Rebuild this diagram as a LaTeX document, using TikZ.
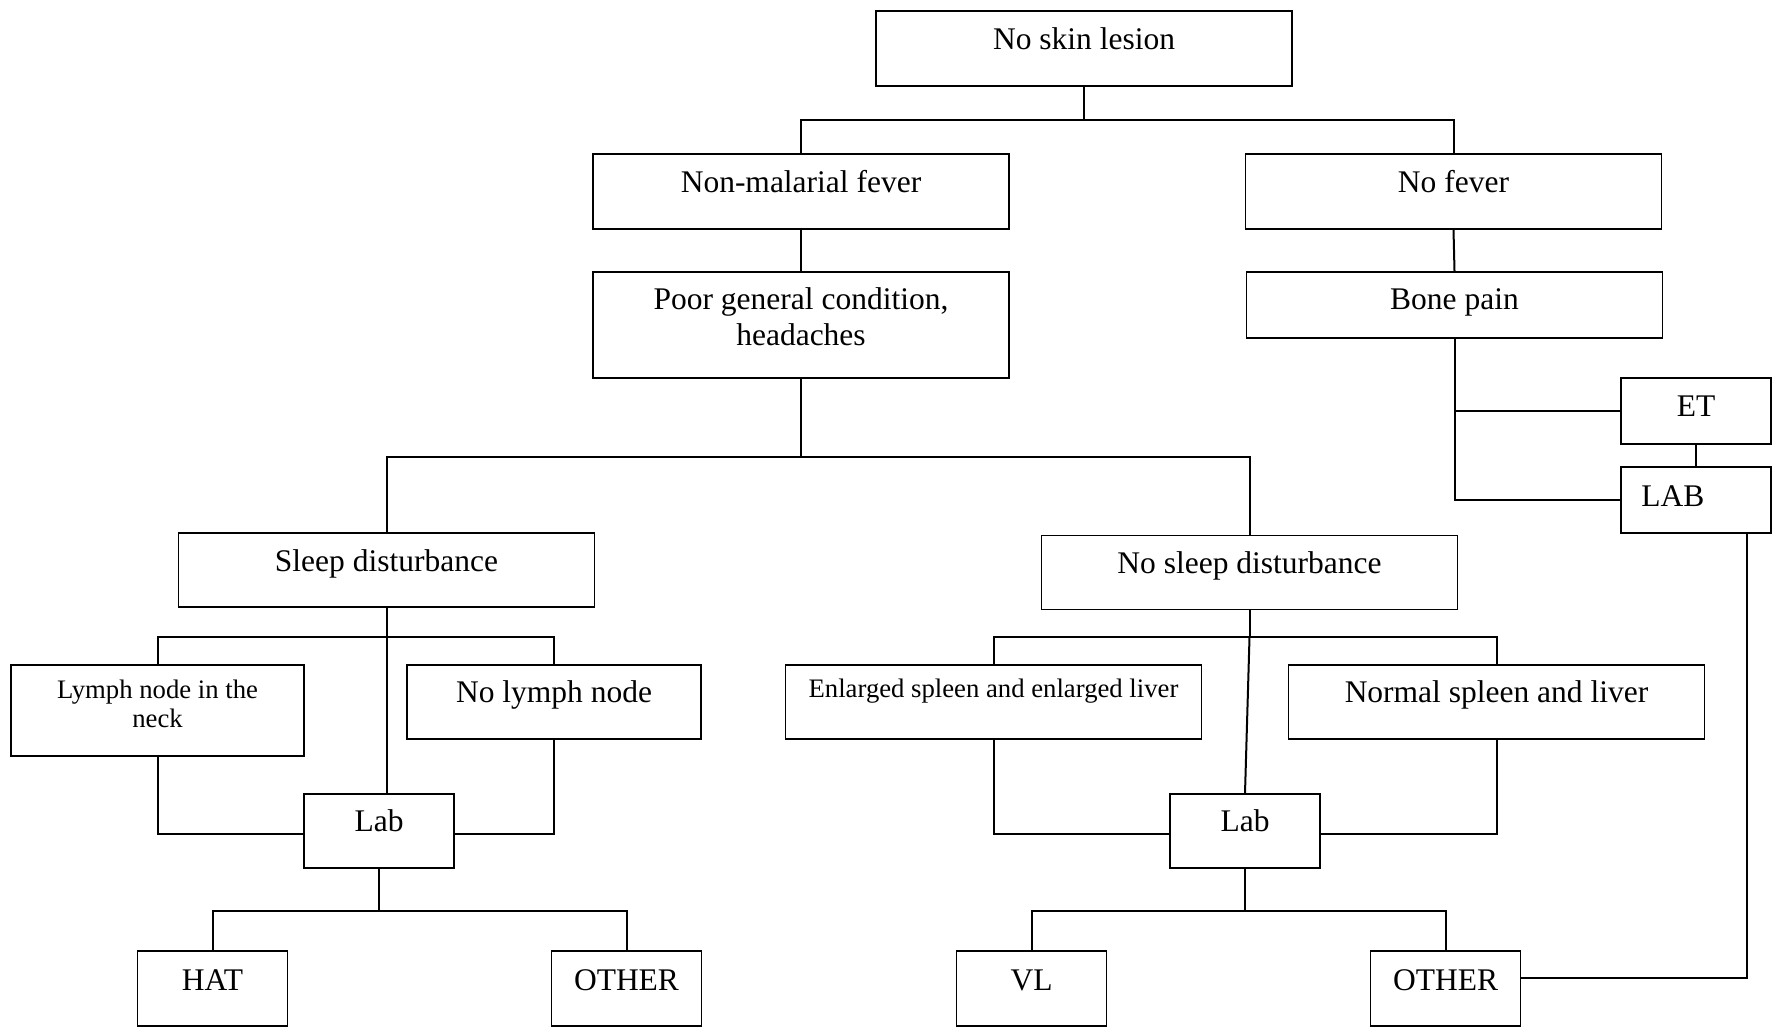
\documentclass[tikz,border=0pt]{standalone}
\usepackage{fontspec}
\setmainfont{Liberation Serif}

\begin{document}
\begin{tikzpicture}[x=1pt,y=-1pt,
  box/.style={draw,line width=1.5pt,inner sep=0pt,minimum width=416pt,minimum height=75pt},
  smallbox/.style={box,minimum width=150pt},
  txt/.style={anchor=base,inner sep=0pt,align=center,font=\fontsize{31.5}{36.7}\selectfont},
  smalltxt/.style={txt,font=\fontsize{26.7}{29.3}\selectfont},
  link/.style={line width=2pt}]
  \useasboundingbox (0,0) rectangle (1774,1028);

  % boxes
  \node[box] (skin) at (1084,48.5) {};
  \node[box] (nonmal) at (801,191.5) {};
  \node[box] (nofever) at (1453.5,191.5) {};
  \node[box,minimum height=106pt] (poor) at (801,325) {};
  \node[box,minimum height=66pt] (bone) at (1454.5,305) {};
  \node[smallbox,minimum height=66pt] (ET) at (1696,411) {};
  \node[smallbox,minimum height=66pt] (LAB) at (1696,500) {};
  \node[box,minimum height=74pt] (sleep) at (386.5,570) {};
  \node[box,minimum height=74pt] (nosleep) at (1249.5,572.5) {};
  \node[box,minimum width=293pt,minimum height=91pt] (lymph) at (157.5,710.5) {};
  \node[box,minimum width=294pt,minimum height=74pt] (nolymph) at (554,702) {};
  \node[box,minimum height=74pt] (enlarged) at (993.5,702) {};
  \node[box,minimum height=74pt] (normal) at (1496.5,702) {};
  \node[smallbox,minimum height=74pt] (labA) at (379,831) {};
  \node[smallbox,minimum height=74pt] (labB) at (1245,831) {};
  \node[smallbox] (hat) at (212.5,988.5) {};
  \node[smallbox] (otherA) at (626.5,988.5) {};
  \node[smallbox] (vl) at (1031.5,988.5) {};
  \node[smallbox] (otherB) at (1445.5,988.5) {};

  % texts
  \node[txt] (skintxt) at ([yshift=-39pt]skin.north) {No skin lesion};
  \node[txt] (nonmaltxt) at ([yshift=-39pt]nonmal.north) {Non-malarial fever};
  \node[txt] (nofevertxt) at ([yshift=-39pt]nofever.north) {No fever};
  \node[txt] (poortxt) at ([yshift=-74.7pt]poor.north) {Poor general condition,\\headaches};
  \node[txt] (bonetxt) at ([yshift=-38pt]bone.north) {Bone pain};
  \node[txt] (ETtxt) at ([yshift=-39pt]ET.north) {ET};
  \node[txt,anchor=base west] (LABtxt) at ([xshift=21pt,yshift=-40pt]LAB.north west) {LAB};
  \node[txt] (sleeptxt) at ([yshift=-39pt]sleep.north) {Sleep disturbance};
  \node[txt] (nosleeptxt) at ([yshift=-39pt]nosleep.north) {No sleep disturbance};
  \node[smalltxt] (lymphtxt) at ([yshift=-63.3pt]lymph.north) {Lymph node in the\\neck};
  \node[txt] (nolymphtxt) at ([yshift=-38.5pt]nolymph.north) {No lymph node};
  \node[smalltxt] (enlargedtxt) at ([yshift=-33.5pt]enlarged.north) {Enlarged spleen and enlarged liver};
  \node[txt] (normaltxt) at ([yshift=-38pt]normal.north) {Normal spleen and liver};
  \node[txt] (labAtxt) at ([yshift=-38pt]labA.north) {Lab};
  \node[txt] (labBtxt) at ([yshift=-38pt]labB.north) {Lab};
  \node[txt] (hattxt) at ([yshift=-40pt]hat.north) {HAT};
  \node[txt] (otherAtxt) at ([yshift=-40pt]otherA.north) {OTHER};
  \node[txt] (vltxt) at ([yshift=-40pt]vl.north) {VL};
  \node[txt] (otherBtxt) at ([yshift=-40pt]otherB.north) {OTHER};

  % connectors
  \draw[link] (skin.south) -- ++(0,33) coordinate (skinbar);
  \draw[link] (nonmal.north) |- (skinbar) -| (nofever.north);
  \draw[link] (nonmal.south) -- (poor.north);
  \draw[link] (nofever.south) -- (bone.north);
  \draw[link] (bone.south) |- (LAB.west);
  \draw[link] (ET.west) -- (ET.west -| bone.south);
  \draw[link] (ET.south) -- (LAB.north);
  \draw[link] ([xshift=50.5pt]LAB.south) |- ([yshift=11pt]otherB.east);

  \draw[link] (poor.south) -- ++(0,78) coordinate (poorbar);
  \draw[link] (sleep.north) |- (poorbar) -| (nosleep.north);

  \draw[link] (sleep.south) -- ++(0,29) coordinate (sleepbar);
  \draw[link] (lymph.north) |- (sleepbar) -| (nolymph.north);
  \draw[link] (sleepbar) -- (sleepbar |- labA.north);
  \draw[link] (lymph.south) |- ([yshift=-3pt]labA.west);
  \draw[link] (nolymph.south) |- ([yshift=-3pt]labA.east);
  \draw[link] (labA.south) -- ++(0,42) coordinate (labAbar);
  \draw[link] (hat.north) |- (labAbar) -| (otherA.north);

  \draw[link] (nosleep.south) -- ++(0,27) coordinate (nosleepbar);
  \draw[link] (enlarged.north) |- (nosleepbar) -| (normal.north);
  \draw[link] (nosleepbar) -- (labB.north);
  \draw[link] (enlarged.south) |- ([yshift=-3pt]labB.west);
  \draw[link] (normal.south) |- ([yshift=-3pt]labB.east);
  \draw[link] (labB.south) -- ++(0,42) coordinate (labBbar);
  \draw[link] (vl.north) |- (labBbar) -| (otherB.north);
\end{tikzpicture}
\end{document}
